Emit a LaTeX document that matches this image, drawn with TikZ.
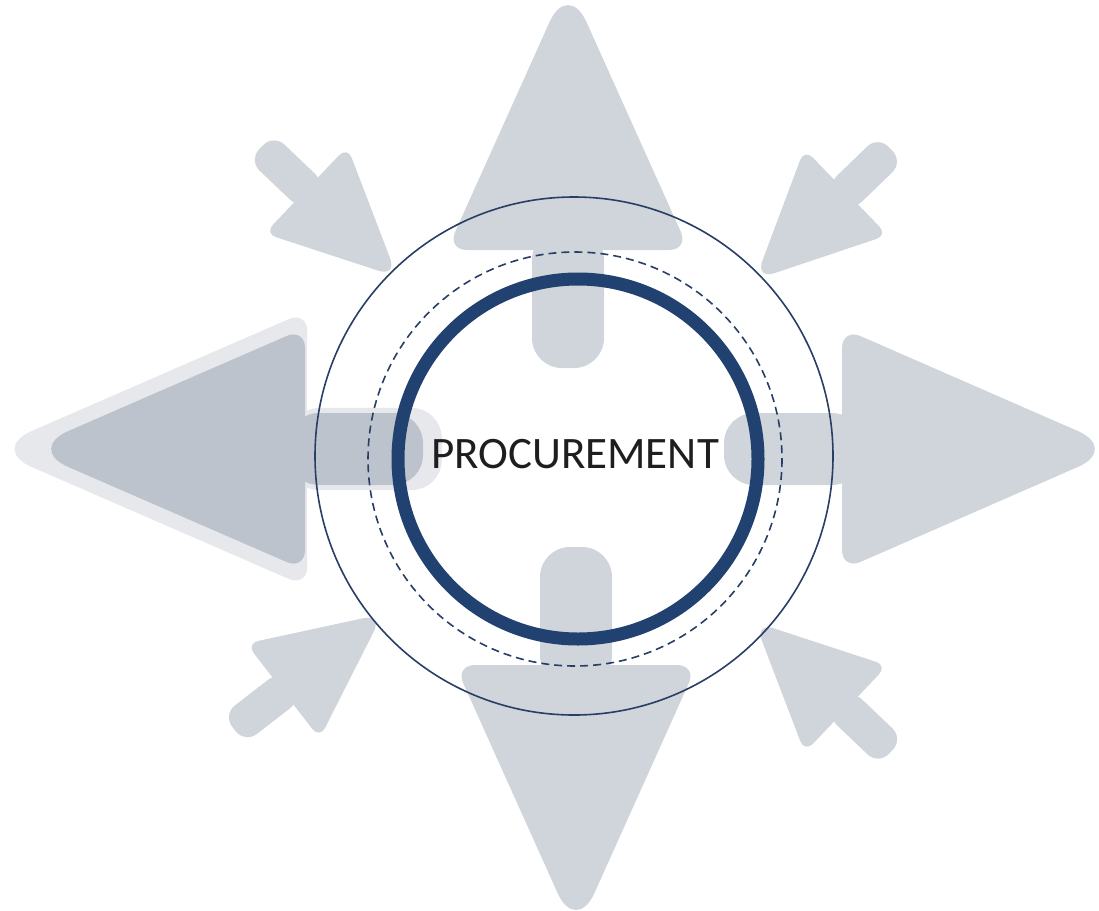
\documentclass[tikz,border=0pt]{standalone}
\usepackage{fontspec}
\setmainfont{Carlito}
\usepackage{tikz}

\definecolor{arrowgray}{RGB}{208,212,219}
\definecolor{leftgray}{RGB}{189,195,204}
\definecolor{halogray}{RGB}{230,232,236}
\definecolor{ringblue}{RGB}{33,66,112}
\definecolor{lineblue}{RGB}{40,62,102}
\definecolor{textgray}{RGB}{30,30,30}

\begin{document}
\begin{tikzpicture}
    [
        x=1pt, y=-1pt,
    ]
    \useasboundingbox (0,0) rectangle (1099,910);

    % big arrows: base centre / angle / head length
    \foreach \x/\y/\a/\h in {568/250/90/269, 576/665/-90/269, 842/449/0/277} {
        \begin{scope}[shift={(\x,\y)}, rotate=\a]
            \fill [arrowgray, rounded corners=30pt] (-118,-36) rectangle (20,36);
            \fill [arrowgray] [rounded corners=20pt] (0,-121) [rounded corners=45pt] -- (\h,0)
                [rounded corners=20pt] -- (0,121) -- cycle;
        \end{scope}
    }

    % left arrow with its halo
    \foreach \c/\s in {halogray/1.14, leftgray/1} {
        \begin{scope}[shift={(289,449)}, rotate=180, scale=\s]
            \fill [\c, rounded corners=30pt] (-134,-36) rectangle (0,36);
            \fill [\c] [rounded corners=20pt] (-16,-121) [rounded corners=45pt] -- (262,0)
                [rounded corners=20pt] -- (-16,121) -- cycle;
        \end{scope}
    }

    % small arrows
    \foreach \x/\y/\a in {306/190/-43.6, 846/192/-136, 283/691/37.7, 846/709/136.4} {
        \begin{scope}[shift={(\x,\y)}, rotate=\a]
            \fill [arrowgray, rounded corners=15pt] (-62,-18) rectangle (10,18);
            \fill [arrowgray] [rounded corners=12pt] (0,-60) [rounded corners=20pt] -- (126,0)
                [rounded corners=12pt] -- (0,60) -- cycle;
        \end{scope}
    }

    \draw [lineblue, line width=1.6pt] (574,456) circle [radius=259];
    \draw [lineblue, line width=1.6pt, dash pattern=on 8pt off 5pt] (575,459) circle [radius=207];
    \draw [ringblue, line width=13pt] (578,459) circle [radius=180];

    \node [textgray] (procurement) at (575,454) {\fontsize{45}{45}\selectfont PROCUREMENT};
\end{tikzpicture}
\end{document}
